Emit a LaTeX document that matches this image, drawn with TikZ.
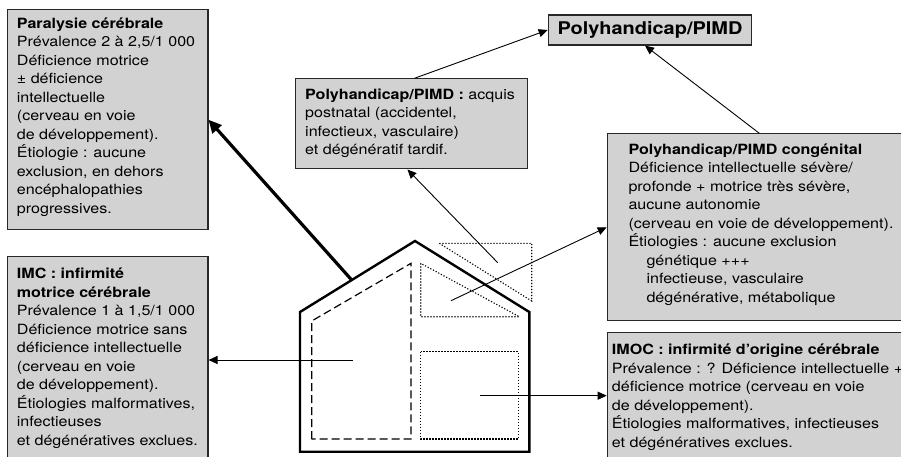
\documentclass[tikz,border=0pt]{standalone}
\usepackage{fontspec}
\setmainfont{TeX Gyre Heros}[FakeStretch=1.14]
\usetikzlibrary{arrows.meta}
\definecolor{cframe}{RGB}{40,40,40}
\definecolor{cfill}{RGB}{210,210,210}

\begin{document}
\begin{tikzpicture}[x=1pt,y=-1pt,
  font=\fontsize{14.1}{18.5}\selectfont,
  box/.style={draw=cframe,fill=cfill,line width=1.2pt,anchor=north west,inner sep=0pt},
  txt/.style={align=left,anchor=north west,inner sep=0pt},
  flow/.style={-{Triangle[length=9pt,width=8pt]},line width=0.9pt},
  bigflow/.style={-{Triangle[length=13pt,width=12pt]},line width=3.2pt},
  house/.style={line width=2.4pt},
  zone/.style={line width=1.2pt,dash pattern=on 8pt off 4pt},
  spot/.style={line width=1.1pt,dash pattern=on 1.2pt off 1.8pt},
]
\useasboundingbox (0,0) rectangle (901,457);
\clip (0,0) rectangle (901,457);

\node[box,minimum width=200.6pt,minimum height=219.7pt] (paralysie) at (6.7,9.3) {};
\node[txt] (paralysie-t) at ([shift={(10,8)}]paralysie.north west) {\textbf{Paralysie cérébrale}\\
Prévalence 2 à 2,5/1~000\\
Déficience motrice\\
± déficience\\
intellectuelle\\
(cerveau en voie\\
de développement).\\
Étiologie : aucune\\
exclusion, en dehors\\
encéphalopathies\\
progressives.};

\node[box,minimum width=200.6pt,minimum height=215pt] (imc) at (6.7,255.7) {};
\node[txt] (imc-t) at ([shift={(10,12)}]imc.north west) {\textbf{IMC : infirmité}\\
\textbf{motrice cérébrale}\\
Prévalence 1 à 1,5/1~000\\
Déficience motrice sans\\
déficience intellectuelle\\
(cerveau en voie\\
de développement).\\
Étiologies malformatives,\\
infectieuses\\
et dégénératives exclues.};

\node[box,minimum width=231.7pt,minimum height=90pt] (acquis) at (295,78.3) {};
\node[txt] (acquis-t) at ([shift={(10,10)}]acquis.north west) {\textbf{Polyhandicap/PIMD :} acquis\\
postnatal (accidentel,\\
infectieux, vasculaire)\\
et dégénératif tardif.};

\node[box,anchor=center,minimum width=203.4pt,minimum height=30pt,font=\fontsize{17.5}{20}\selectfont\bfseries] (pimd) at (650,30) {Polyhandicap/PIMD};

\node[box,minimum width=310pt,minimum height=186.7pt] (congenital) at (606.7,133.3) {};
\node[txt] (congenital-t) at ([shift={(21.6,10)}]congenital.north west) {\textbf{Polyhandicap/PIMD congénital}\\
Déficience intellectuelle sévère/\\
profonde + motrice très sévère,\\
aucune autonomie\\
(cerveau en voie de développement).\\
Étiologies : aucune exclusion\\
\hspace*{18pt}génétique +++\\
\hspace*{18pt}infectieuse, vasculaire\\
\hspace*{18pt}dégénérative, métabolique};

\node[box,minimum width=310pt,minimum height=140pt] (imoc) at (606.7,331.7) {};
\node[txt] (imoc-t) at ([shift={(5,12)}]imoc.north west) {\textbf{IMOC : infirmité d’origine cérébrale}\\
Prévalence : ? Déficience intellectuelle +\\
déficience motrice (cerveau en voie\\
de développement).\\
Étiologies malformatives, infectieuses\\
et dégénératives exclues.};

\draw[house] (300,451.7) -- (300,312) -- (415,241) -- (529.3,312) -- (529.3,451.7) -- cycle;
\draw[zone] (311.7,439) -- (311.7,321) -- (411,263.3) -- (411,439) -- cycle;
\draw[spot] (420.7,263.3) -- (420.7,316.7) -- (519.3,316.7) -- cycle;
\draw[spot] (439.3,243.3) -- (531.7,243.3) -- (531.7,301) -- cycle;
\draw[spot] (420.7,351.7) rectangle (518.3,439);

\coordinate (roof) at (351.7,280);
\coordinate (attic) at (497.7,262.7);
\coordinate (loft) at (451,300.7);
\coordinate (wing) at (352.7,360);
\coordinate (room) at (480,395.7);

\draw[bigflow] (roof) -- (paralysie.east);
\draw[flow] (wing) -- (wing -| imc.east);
\draw[flow] (room) -- (room -| imoc.west);
\draw[flow] (loft) -- (congenital.west);
\draw[flow] (attic) -- ([xshift=-4pt]acquis.south);
\draw[flow] ([xshift=3pt]acquis.north) -- (pimd.west);
\draw[flow] ([xshift=-3pt]congenital.north) -- ([xshift=-5pt]pimd.south);
\end{tikzpicture}
\end{document}
